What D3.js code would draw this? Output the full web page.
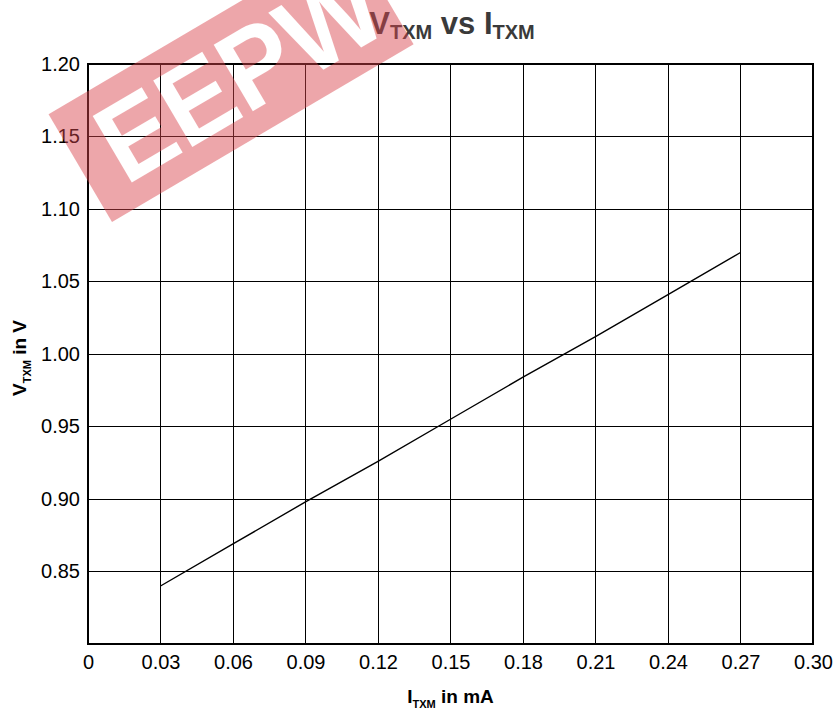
<!DOCTYPE html>
<html>
<head>
<meta charset="utf-8">
<script src="https://cdn.jsdelivr.net/npm/d3@7"></script>
<style>
  body { margin: 0; background: #fff; }
  text { font-family: Arial, "Liberation Sans", sans-serif; }
</style>
</head>
<body>
<div id="chart"></div>
<script>
// values
const currentMA = [0.03, 0.06, 0.09, 0.12, 0.15, 0.18, 0.21, 0.24, 0.27]
const voltageV = [0.840, 0.869, 0.898, 0.926, 0.955, 0.984, 1.012, 1.041, 1.070]
const xTicks = [0, 0.03, 0.06, 0.09, 0.12, 0.15, 0.18, 0.21, 0.24, 0.27, 0.30]
const yTicks = [0.85, 0.90, 0.95, 1.00, 1.05, 1.10, 1.15, 1.20]
const yGrid = [0.80, 0.85, 0.90, 0.95, 1.00, 1.05, 1.10, 1.15, 1.20]

const width = 836, height = 714
const margin = { left: 88, right: 23, top: 64, bottom: 70 }
const w = width - margin.left - margin.right
const h = height - margin.top - margin.bottom
const font = 'Arial, "Liberation Sans", sans-serif'

const svg = d3.select('#chart').append('svg')
    .attr('width', width)
    .attr('height', height)

const x = d3.scaleLinear().domain([0, 0.30]).range([0, w])
const y = d3.scaleLinear().domain([0.80, 1.20]).range([h, 0])

const g = svg.append('g')
    .attr('transform', 'translate(' + margin.left + ',' + margin.top + ')')

// grid
g.append('g').selectAll('line')
  .data(xTicks)
  .enter().append('line')
    .attr('x1', d => x(d)).attr('x2', d => x(d))
    .attr('y1', 0).attr('y2', h)
    .attr('stroke', '#000').attr('stroke-width', 1)
    .attr('shape-rendering', 'crispEdges')

g.append('g').selectAll('line')
  .data(yGrid)
  .enter().append('line')
    .attr('x1', 0).attr('x2', w)
    .attr('y1', d => y(d)).attr('y2', d => y(d))
    .attr('stroke', '#000').attr('stroke-width', 1)
    .attr('shape-rendering', 'crispEdges')

// frame
g.append('rect')
    .attr('width', w).attr('height', h)
    .attr('fill', 'none').attr('stroke', '#000').attr('stroke-width', 2)

// axes (labels only)
const xAxis = g.append('g')
    .attr('transform', 'translate(0,' + h + ')')
    .call(d3.axisBottom(x).tickValues(xTicks).tickSize(0).tickPadding(11)
      .tickFormat(d => d === 0 ? '0' : d3.format('.2f')(d)))
xAxis.select('.domain').remove()
xAxis.selectAll('text').attr('font-size', 20).attr('fill', '#000')
    .attr('font-family', font)

const yAxis = g.append('g')
    .call(d3.axisLeft(y).tickValues(yTicks).tickSize(0).tickPadding(8)
      .tickFormat(d3.format('.2f')))
yAxis.select('.domain').remove()
yAxis.selectAll('text').attr('font-size', 20).attr('fill', '#000')
    .attr('font-family', font)

// data line
const line = d3.line()
    .x((d, i) => x(currentMA[i]))
    .y(d => y(d))
g.append('path')
    .datum(voltageV)
    .attr('d', line)
    .attr('fill', 'none')
    .attr('stroke', '#000')
    .attr('stroke-width', 1.4)

// title
const title = svg.append('text')
    .attr('x', 452).attr('y', 34)
    .attr('text-anchor', 'middle')
    .attr('font-size', 31).attr('font-weight', 'bold')
    .attr('fill', '#3a3a3a')
title.append('tspan').text('V')
title.append('tspan').attr('font-size', 20).attr('dy', 5).text('TXM')
title.append('tspan').attr('dy', -5).text(' vs I')
title.append('tspan').attr('font-size', 20).attr('dy', 5).text('TXM')

// x label
const xl = svg.append('text')
    .attr('x', margin.left + w / 2).attr('y', 703)
    .attr('text-anchor', 'middle')
    .attr('font-size', 19).attr('font-weight', 'bold')
xl.append('tspan').text('I')
xl.append('tspan').attr('font-size', 11).attr('dy', 5).text('TXM')
xl.append('tspan').attr('dy', -5).text(' in mA')

// y label
const yl = svg.append('text')
    .attr('transform', 'translate(26,358) rotate(-90)')
    .attr('text-anchor', 'middle')
    .attr('font-size', 19).attr('font-weight', 'bold')
yl.append('tspan').text('V')
yl.append('tspan').attr('font-size', 11).attr('dy', 5).text('TXM')
yl.append('tspan').attr('dy', -5).text(' in V')

// watermark
const mask = svg.append('defs').append('mask').attr('id', 'wm')
    .attr('maskUnits', 'userSpaceOnUse')
    .attr('x', -50).attr('y', -200).attr('width', 500).attr('height', 260)
mask.append('rect').attr('x', -50).attr('y', -200).attr('width', 500).attr('height', 260).attr('fill', '#fff')
mask.append('text')
    .attr('x', 30).attr('y', -24)
    .attr('textLength', 310)
    .attr('lengthAdjust', 'spacingAndGlyphs')
    .attr('font-size', 112).attr('font-weight', 'bold')
    .attr('font-family', '"DejaVu Sans", sans-serif')
    .attr('fill', '#000')
    .text('EEPW')

svg.append('g')
    .attr('transform', 'translate(112,222) rotate(-30.5)')
  .append('rect')
    .attr('x', 0).attr('y', -125).attr('width', 350).attr('height', 125)
    .attr('fill', '#d9444c').attr('opacity', 0.47)
    .attr('mask', 'url(#wm)')
</script>
</body>
</html>
